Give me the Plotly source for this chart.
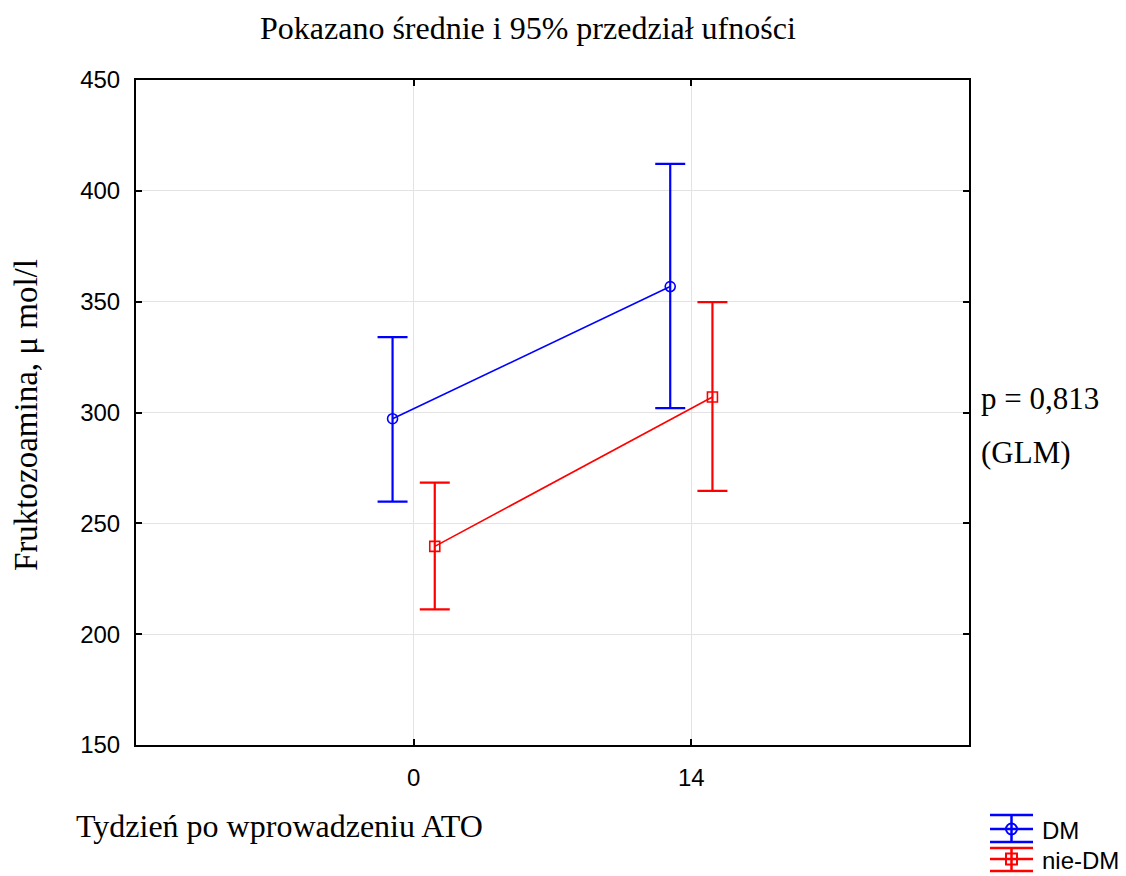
import plotly.graph_objects as go

# Week after ATO introduction (category labels on x axis)
weeks = ["0", "14"]

# Fructosamine means and 95% CI bounds, µmol/l
dm_mean = [297.2, 356.8]
dm_low = [259.8, 302.0]
dm_high = [334.0, 412.2]

nondm_mean = [239.6, 307.0]
nondm_low = [211.2, 264.6]
nondm_high = [268.4, 349.8]

series = [
    ("DM", dm_mean, dm_low, dm_high, "#0000FF", "circle-open", -0.076),
    ("nie-DM", nondm_mean, nondm_low, nondm_high, "#FF0000", "square-open", 0.076),
]

L, R, T, B = 136, 157, 80, 131
W, H = 1126, 876
PW, PH = W - L - R, H - T - B


def px_x(px):
    return (px - L) / PW


def px_y(py):
    return (H - B - py) / PH


fig = go.Figure()

for name, mean, low, high, color, symbol, shift in series:
    xs = [i + shift for i in range(len(weeks))]
    fig.add_trace(go.Scatter(
        x=xs, y=mean, name=name, mode="lines+markers",
        line=dict(color=color, width=1.6),
        marker=dict(symbol=symbol, size=10, color=color, line=dict(color=color, width=1.6)),
        error_y=dict(type="data", symmetric=False,
                     array=[h - m for h, m in zip(high, mean)],
                     arrayminus=[m - lo for m, lo in zip(mean, low)],
                     color=color, thickness=2.2, width=15),
        showlegend=False,
    ))

# Hand-drawn legend with error-bar style keys
legend_rows = [(829, 815, 842), (859, 848, 871)]
for (name, mean, low, high, color, symbol, shift), (yc, ytop, ybot) in zip(series, legend_rows):
    for yy in (ytop, yc, ybot):
        fig.add_shape(type="line", xref="paper", yref="paper",
                      x0=px_x(990), x1=px_x(1033), y0=px_y(yy), y1=px_y(yy),
                      line=dict(color=color, width=2.5))
    fig.add_shape(type="line", xref="paper", yref="paper",
                  x0=px_x(1011.5), x1=px_x(1011.5), y0=px_y(ytop), y1=px_y(ybot),
                  line=dict(color=color, width=2.5))
    if symbol.startswith("circle"):
        fig.add_shape(type="circle", xref="paper", yref="paper",
                      x0=px_x(1006), x1=px_x(1017), y0=px_y(yc - 5.5), y1=px_y(yc + 5.5),
                      line=dict(color=color, width=2))
    else:
        fig.add_shape(type="rect", xref="paper", yref="paper",
                      x0=px_x(1006), x1=px_x(1017), y0=px_y(yc - 5.5), y1=px_y(yc + 5.5),
                      line=dict(color=color, width=2))
    fig.add_annotation(text=name, xref="paper", yref="paper",
                       x=px_x(1040), y=px_y(yc + 1), xanchor="left", yanchor="middle",
                       showarrow=False,
                       font=dict(family="Liberation Sans, Arial", size=24, color="black"))

serif = "Liberation Serif, Times New Roman, serif"

fig.add_annotation(text="Pokazano średnie i 95% przedział ufności", xref="paper", yref="paper",
                   x=px_x(528), y=px_y(28), xanchor="center", yanchor="middle",
                   showarrow=False, font=dict(family=serif, size=32, color="black"))
fig.add_annotation(text="Tydzień po wprowadzeniu ATO", xref="paper", yref="paper",
                   x=px_x(74), y=px_y(826), xanchor="left", yanchor="middle",
                   showarrow=False, font=dict(family=serif, size=32, color="black"))
fig.add_annotation(text="Fruktozoamina, μ mol/l", xref="paper", yref="paper",
                   x=px_x(26), y=px_y(415), xanchor="center", yanchor="middle", textangle=-90,
                   showarrow=False, font=dict(family=serif, size=33, color="black"))
fig.add_annotation(text="p = 0,813", xref="paper", yref="paper",
                   x=px_x(979), y=px_y(398), xanchor="left", yanchor="middle",
                   showarrow=False, font=dict(family=serif, size=31, color="black"))
fig.add_annotation(text="(GLM)", xref="paper", yref="paper",
                   x=px_x(979), y=px_y(453), xanchor="left", yanchor="middle",
                   showarrow=False, font=dict(family=serif, size=31, color="black"))

axis_common = dict(showline=True, linecolor="black", linewidth=2, mirror="ticks",
                   ticks="inside", ticklen=6, tickcolor="black", tickwidth=1.5,
                   showgrid=True, gridcolor="#E3E3E3", gridwidth=1, zeroline=False,
                   tickfont=dict(family="Liberation Sans, Arial", size=24, color="black"))

fig.update_xaxes(range=[-1, 2], tickmode="array", tickvals=list(range(len(weeks))),
                 ticktext=weeks, ticklabelstandoff=10, **axis_common)
fig.update_yaxes(range=[150, 450], tickmode="array", tickvals=list(range(150, 451, 50)),
                 ticklabelstandoff=9, **axis_common)

fig.update_layout(width=W, height=H, margin=dict(l=L, r=R, t=T, b=B),
                  plot_bgcolor="white", paper_bgcolor="white", showlegend=False)

fig.write_html("out.html")
